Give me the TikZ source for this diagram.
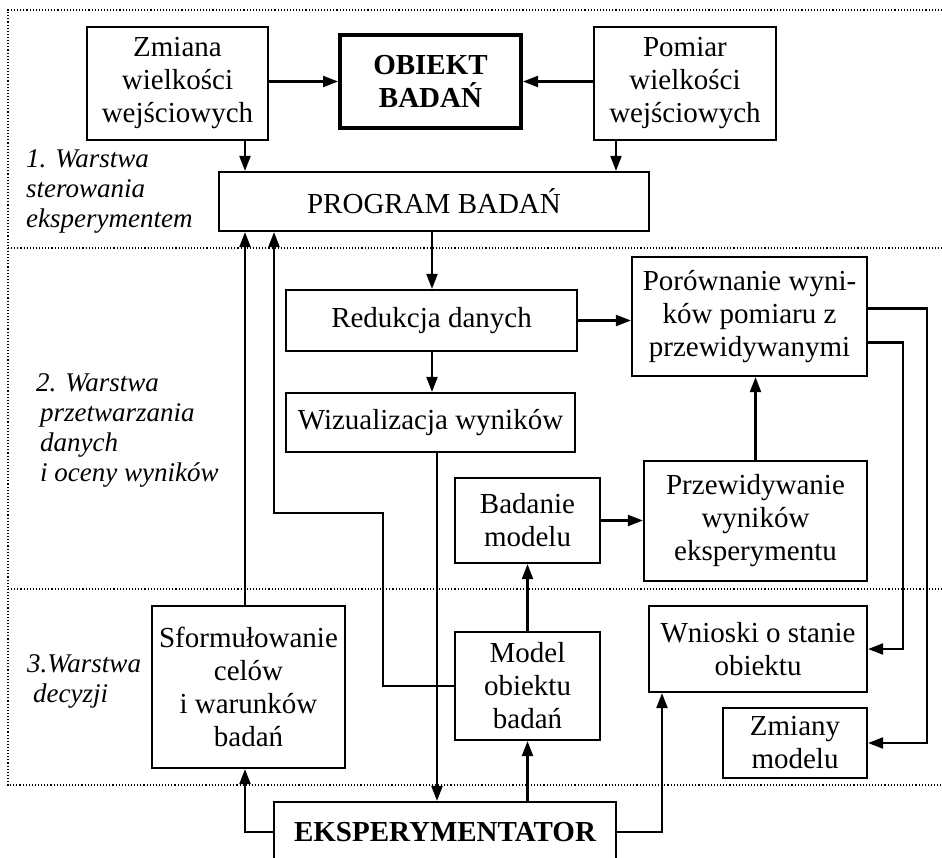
\documentclass[tikz,border=0pt]{standalone}
\usepackage{fontspec}
\setmainfont{Liberation Serif}
\usetikzlibrary{arrows.meta}

\begin{document}
\begin{tikzpicture}[x=1pt,y=-1pt,
    blok/.style={draw,line width=2.2pt,align=center,inner sep=0pt,font=\fontsize{29}{33}\selectfont},
    pogrub/.style={font=\fontsize{29}{33}\selectfont\bfseries},
    warstwa/.style={align=left,anchor=west,inner sep=0pt,font=\fontsize{27}{30}\selectfont\itshape},
    arr/.style={line width=2.2pt,-{Triangle[length=15pt,width=11pt]}},
    ramka/.style={line width=1.1pt,dash pattern=on 1.1pt off 2pt}]
  \useasboundingbox (0,0) rectangle (942,857);
  % granice warstw
  \draw[ramka] (942,10) -- (8,10) -- (8,785) -- (942,785);
  \draw[ramka] (8,248) -- (942,248);
  \draw[ramka] (8,589) -- (942,589);
  \node[warstwa] (w1) at (26,191) {1. Warstwa\\sterowania\\eksperymentem};
  \node[warstwa] (w2) at (36,430) {2. Warstwa\\\hspace*{4pt}przetwarzania\\\hspace*{4pt}danych\\\hspace*{4pt}i oceny wyników};
  \node[warstwa] (w3) at (27,681) {3.Warstwa\\\hspace*{6pt}decyzji};
  % bloki
  \node[blok,minimum width=181pt,minimum height=113pt] (zmiana) at (177.5,83.5) {Zmiana\\wielkości\\wejściowych};
  \node[blok,pogrub,line width=4pt,minimum width=181pt,minimum height=93pt] (obiekt) at (430.5,81.5) {OBIEKT\\BADAŃ};
  \node[blok,minimum width=182pt,minimum height=113pt] (pomiar) at (685,83.5) {Pomiar\\wielkości\\wejściowych};
  \node[blok,minimum width=430pt,minimum height=59pt] (program) at (434,201.5) {PROGRAM BADAŃ};
  \node[blok,minimum width=291pt,minimum height=61pt] (redukcja) at (431.5,320.5) {Redukcja danych};
  \node[blok,minimum width=289pt,minimum height=59pt] (wizual) at (430.5,422.5) {Wizualizacja wyników};
  \node[blok,minimum width=235pt,minimum height=119pt] (porown) at (749.5,316.5) {Porównanie wyni-\\ków pomiaru z\\przewidywanymi};
  \node[blok,minimum width=223pt,minimum height=120pt] (przewid) at (755.5,521) {Przewidywanie\\wyników\\eksperymentu};
  \node[blok,minimum width=145pt,minimum height=85pt] (badanie) at (527.5,520.5) {Badanie\\modelu};
  \node[blok,minimum width=145pt,minimum height=108pt] (model) at (527.5,686) {Model\\obiektu\\badań};
  \node[blok,minimum width=193pt,minimum height=162pt] (cele) at (248.5,687) {Sformułowanie\\celów\\i warunków\\badań};
  \node[blok,minimum width=218pt,minimum height=86pt] (wnioski) at (758,649) {Wnioski o stanie\\obiektu};
  \node[blok,minimum width=144pt,minimum height=70pt] (zmiany) at (795,743) {Zmiany\\modelu};
  \node[blok,pogrub,minimum width=342pt,minimum height=60pt] (eksp) at (445,832) {EKSPERYMENTATOR};
  % pionowe tory polaczen
  \coordinate (kolA) at (245,0);
  \coordinate (kolB) at (274,0);
  \coordinate (kolC) at (432,0);
  \coordinate (kolD) at (437,0);
  \coordinate (kolE) at (616,0);
  \coordinate (kolW) at (662,0);
  \coordinate (kolQ) at (903,0);
  \coordinate (kolP) at (927,0);
  \coordinate (zag) at (383,513);
  % polaczenia
  \draw[arr] (zmiana.east |- obiekt.west) -- (obiekt.west);
  \draw[arr] (pomiar.west |- obiekt.east) -- (obiekt.east);
  \draw[arr] (zmiana.south -| kolA) -- (program.north -| kolA);
  \draw[arr] (pomiar.south -| kolE) -- (program.north -| kolE);
  \draw[arr] (program.south -| kolC) -- (redukcja.north -| kolC);
  \draw[arr] (redukcja.south -| kolC) -- (wizual.north -| kolC);
  \draw[arr] (wizual.south -| kolD) -- (eksp.north -| kolD);
  \draw[arr] (redukcja.east) -- (redukcja.east -| porown.west);
  \draw[arr] (przewid.north) -- (przewid.north |- porown.south);
  \draw[arr] (badanie.east) -- (badanie.east -| przewid.west);
  \draw[arr] (model.north) -- (badanie.south);
  \draw[arr] (eksp.north -| model.south) -- (model.south);
  \draw[arr] (cele.north -| kolA) -- (program.south -| kolA);
  \draw[arr] (eksp.west) -| (cele.south -| kolA);
  \draw[arr] (eksp.east) -| (wnioski.south -| kolW);
  \draw[arr] (model.west) -| (zag) -| (program.south -| kolB);
  \draw[arr] ([yshift=8pt]porown.east) -| (kolP |- zmiany.east) -- (zmiany.east);
  \draw[arr] ([yshift=-26pt]porown.east) -| (kolQ |- wnioski.east) -- (wnioski.east);
\end{tikzpicture}
\end{document}
